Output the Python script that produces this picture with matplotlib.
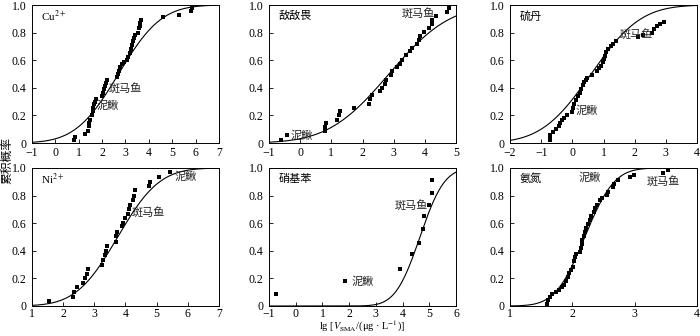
import math
import numpy as np
import matplotlib
matplotlib.use("Agg")
import matplotlib.pyplot as plt

plt.rcParams['font.family'] = ['Liberation Serif', 'DejaVu Serif', 'Noto Sans CJK SC']
plt.rcParams['mathtext.fontset'] = 'stix'
plt.rcParams['font.size'] = 9

# --- data
cu_x = [0.78, 0.85, 1.28, 1.38, 1.42, 1.45, 1.5, 1.55, 1.6, 1.62, 1.65, 1.7, 1.75,
        1.98, 2.03, 2.08, 2.12, 2.17, 2.22, 2.65, 2.68, 2.72, 2.78, 2.83, 2.92,
        3.05, 3.12, 3.18, 3.22, 3.27, 3.31, 3.36, 3.4, 3.52, 3.56, 3.6, 3.63, 3.66,
        4.6, 5.3, 5.82, 5.86]
cu_y = [0.02, 0.045, 0.065, 0.09, 0.12, 0.145, 0.17, 0.2, 0.23, 0.255, 0.28, 0.3, 0.32,
        0.34, 0.365, 0.39, 0.41, 0.435, 0.455, 0.475, 0.5, 0.525, 0.55, 0.57, 0.59,
        0.605, 0.625, 0.65, 0.68, 0.71, 0.74, 0.76, 0.78, 0.8, 0.83, 0.85, 0.87, 0.89,
        0.91, 0.93, 0.955, 0.975]

ddv_x = [-0.6, -0.42, 0.79, 0.81, 0.84, 1.19, 1.23, 1.29, 1.72, 2.22, 2.23, 2.29,
         2.56, 2.64, 2.72, 2.77, 2.92, 2.94, 3.12, 3.2, 3.27, 3.39, 3.52, 3.58,
         3.76, 3.8, 3.84, 3.98, 4.14, 4.22, 4.24, 4.36, 4.7, 4.79]
ddv_y = [0.024, 0.056, 0.087, 0.116, 0.145, 0.17, 0.2, 0.23, 0.256, 0.285, 0.316, 0.345,
         0.374, 0.4, 0.43, 0.46, 0.49, 0.52, 0.55, 0.575, 0.6, 0.635, 0.665, 0.69,
         0.72, 0.75, 0.775, 0.805, 0.833, 0.86, 0.89, 0.92, 0.947, 0.976]

ld_x = [-0.72, -0.72, -0.71, -0.61, -0.53, -0.42, -0.4, -0.34, -0.27, -0.18, -0.02,
        0.01, 0.05, 0.12, 0.19, 0.25, 0.28, 0.33, 0.38, 0.44, 0.48, 0.62, 0.78, 0.87,
        0.91, 0.98, 1.0, 1.05, 1.08, 1.16, 1.23, 1.3, 1.4, 2.12, 2.28, 2.55, 2.63,
        2.72, 2.8, 2.93]
ld_y = [0.024, 0.043, 0.06, 0.08, 0.1, 0.12, 0.145, 0.17, 0.18, 0.2, 0.225,
        0.255, 0.285, 0.31, 0.34, 0.36, 0.39, 0.42, 0.44, 0.46, 0.47, 0.49, 0.52, 0.54,
        0.56, 0.585, 0.61, 0.63, 0.66, 0.68, 0.7, 0.72, 0.74, 0.765, 0.78, 0.8, 0.825,
        0.845, 0.865, 0.88]

ni_x = [1.55, 2.32, 2.34, 2.45, 2.64, 2.7, 2.75, 2.8, 3.25, 3.28, 3.35, 3.37, 3.41,
        3.69, 3.71, 3.73, 3.9, 3.92, 3.97, 4.07, 4.1, 4.14, 4.24, 4.28, 4.3,
        4.76, 4.78, 5.08, 5.42]
ni_y = [0.034, 0.065, 0.1, 0.135, 0.166, 0.2, 0.23, 0.27, 0.3, 0.335, 0.37, 0.4, 0.435,
        0.466, 0.51, 0.535, 0.58, 0.6, 0.635, 0.67, 0.7, 0.735, 0.767, 0.8, 0.837,
        0.87, 0.9, 0.935, 0.97]

nb_x = [-0.73, 1.86, 3.92, 4.37, 4.63, 4.75, 4.79, 5.0, 5.1, 5.12]
nb_y = [0.09, 0.18, 0.27, 0.375, 0.455, 0.555, 0.65, 0.73, 0.82, 0.91]

an_x = [1.6, 1.61, 1.64, 1.67, 1.73, 1.78, 1.84, 1.87, 1.9, 1.93, 1.95, 1.98, 2.01,
        2.03, 2.05, 2.06, 2.13, 2.14, 2.15, 2.16, 2.18, 2.2, 2.22, 2.25, 2.28, 2.3,
        2.34, 2.37, 2.39, 2.44, 2.47, 2.56, 2.58, 2.66, 2.67, 2.73, 2.93, 2.99,
        3.45, 3.54]
an_y = [0.015, 0.04, 0.063, 0.087, 0.1, 0.118, 0.135, 0.154, 0.178, 0.207, 0.238, 0.262,
        0.286, 0.325, 0.356, 0.38, 0.39, 0.418, 0.447, 0.478, 0.51, 0.538, 0.567,
        0.594, 0.623, 0.65, 0.683, 0.71, 0.735, 0.765, 0.785, 0.805, 0.825, 0.86,
        0.885, 0.91, 0.935, 0.95, 0.965, 0.985]

# fitted log-normal SSD curves (mean, sd of lg value)
cu_fit = (2.7, 1.44)
ddv_fit = (2.85, 1.53)
ld_fit = (0.6, 1.25)
ni_fit = (3.75, 1.05)
nb_fit = (4.65, 0.72)
an_fit = (2.2, 0.37)

panels = [
    # name, x, y, fit, xlim, ticks, labels(text, x, y)
    ("Cu$^{2+}$", cu_x, cu_y, cu_fit, (-1, 7), range(-1, 8),
     [("斑马鱼", 2.3, 0.395), ("泥鳅", 1.75, 0.27)]),
    ("敌敌畏", ddv_x, ddv_y, ddv_fit, (-1, 5), range(-1, 6),
     [("斑马鱼", 3.25, 0.94), ("泥鳅", -0.3, 0.05)]),
    ("硫丹", ld_x, ld_y, ld_fit, (-2, 4), range(-2, 5),
     [("斑马鱼", 1.52, 0.785), ("泥鳅", 0.09, 0.235)]),
    ("Ni$^{2+}$", ni_x, ni_y, ni_fit, (1, 7), range(1, 8),
     [("斑马鱼", 4.2, 0.675), ("泥鳅", 5.58, 0.94)]),
    ("硝基苯", nb_x, nb_y, nb_fit, (-1, 6), range(-1, 7),
     [("斑马鱼", 3.69, 0.73), ("泥鳅", 2.08, 0.18)]),
    ("氨氮", an_x, an_y, an_fit, (1, 4), range(1, 5),
     [("泥鳅", 2.1, 0.93), ("斑马鱼", 3.19, 0.9)]),
]

lefts = [32, 269, 510]
bottoms = [143, 306]
W, H = 700, 336
fig = plt.figure(figsize=(7, 3.36), dpi=100)

ncdf = np.vectorize(lambda z: 0.5 * (1 + math.erf(z / math.sqrt(2))))

for i, (name, xs, ys, fit, xlim, ticks, labs) in enumerate(panels):
    row, col = divmod(i, 3)
    ax = fig.add_axes([lefts[col] / W, 1 - bottoms[row] / H, 187 / W, 138 / H])
    xx = np.linspace(xlim[0], xlim[1], 300)
    ax.plot(xx, ncdf((xx - fit[0]) / fit[1]), color='black', lw=0.8)
    ax.plot(xs, ys, 's', color='black', ms=2.8, mew=0)
    ax.set_xlim(*xlim)
    ax.set_ylim(0, 1.0)
    ax.set_xticks(list(ticks))
    ax.set_yticks([0, 0.2, 0.4, 0.6, 0.8, 1.0])
    ax.set_yticklabels(["0", "0.2", "0.4", "0.6", "0.8", "1.0"])
    ax.tick_params(direction='in', length=3, width=0.6, labelsize=8.5)
    ax.tick_params(axis='x', pad=3 if row == 0 else 1.5)
    ax.tick_params(axis='y', pad=4)
    for s in ax.spines.values():
        s.set_linewidth(0.7)
    ax.text(0.05, 0.92, name, transform=ax.transAxes, ha='left', va='center', fontsize=8)
    for t, tx, ty in labs:
        ax.text(tx, ty, t, ha='left', va='center', fontsize=8, color='#222222')

fig.text(7 / W, 1 - 160 / H, "累积概率", rotation=90, ha='center', va='center', fontsize=8.5)
fig.text(362 / W, 1.5 / H, r"lg [$V_{\rm SMA}$/(μg · L$^{-1}$)]",
         ha='center', va='bottom', fontsize=7.5)

fig.savefig("out.png", dpi=100)
